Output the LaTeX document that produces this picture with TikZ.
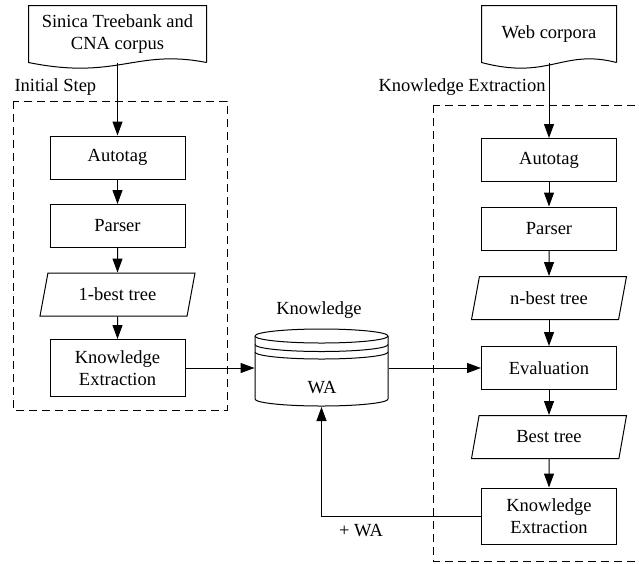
\documentclass[tikz,border=0pt]{standalone}
\usepackage{fontspec}
\setmainfont{Liberation Serif}
\usetikzlibrary{arrows.meta, shapes.geometric, calc}

\tikzset{
  flow/.style={-{Triangle[length=14pt,width=10pt]}},
  procbox/.style={draw, rectangle, minimum width=135pt, minimum height=43pt,
      inner sep=2pt, align=center},
  treebox/.style={draw, trapezium, trapezium left angle=65,
      trapezium right angle=115, trapezium stretches body,
      minimum width=155pt, minimum height=43pt, inner sep=2pt},
  docnode/.style={rectangle, minimum height=56pt, inner sep=2pt, align=center},
  groupframe/.style={dash pattern=on 8pt off 5pt}
}

% outline of a document symbol with a wavy bottom
\newcommand{\docoutline}[1]{%
  \draw (#1.south east) -- (#1.north east) -- (#1.north west) -- (#1.south west)
    .. controls ($(#1.south west)!0.5!(#1.south east)+(0,18)$)
           and ($(#1.south west)!0.6!(#1.south east)+(0,-14)$) .. (#1.south east);}

\begin{document}
\begin{tikzpicture}[x=1pt, y=-1pt, line width=1pt,
      every node/.style={font=\fontsize{18.5}{21.5}\selectfont}]
    \useasboundingbox (0,0) rectangle (639,563);

    % initial step
    \node[docnode, minimum width=177pt] (ldoc) at (117.5,34) {Sinica Treebank and\\CNA corpus};
    \docoutline{ldoc}
    \draw[groupframe] (13,101) rectangle (227,410);
    \node[anchor=west, inner sep=0pt] (linit) at (14,87) {Initial Step};
    \node[procbox] (lauto) at (117.5,157.5) {Autotag};
    \node[procbox] (lpar) at (117.5,226) {Parser};
    \node[treebox] (lbest) at (117.5,294.5) {1-best tree};
    \node[procbox, minimum height=57pt] (lke) at (117.5,368) {Knowledge\\Extraction};

    \draw[flow] (ldoc.south) -- (lauto);
    \draw[flow] (lauto) -- (lpar);
    \draw[flow] (lpar) -- (lbest);
    \draw[flow] (lbest) -- (lke);

    % knowledge base
    \node[minimum width=133pt, minimum height=77pt, inner sep=0pt] (db) at (321.5,368) {};
    \draw (255,336) arc (180:-180:66.5 and 7);
    \draw (255,344.5) arc (180:0:66.5 and 7);
    \draw (255,352) arc (180:0:66.5 and 7);
    \draw (255,336) -- (255,399) arc (180:0:66.5 and 7) -- (388,336);
    \node (kname) at (319,310) {Knowledge};
    \node (kwa) at (322,388) {WA};

    % knowledge extraction
    \node[docnode, minimum width=134pt] (rdoc) at (549,34) {Web corpora};
    \docoutline{rdoc}
    \draw[groupframe] (433,105) rectangle (650,561);
    \node[anchor=east, inner sep=0pt] (rinit) at (546,87) {Knowledge Extraction};
    \node[procbox] (rauto) at (549,160) {Autotag};
    \node[procbox] (rpar) at (549,228.5) {Parser};
    \node[treebox] (rnbest) at (549,298) {n-best tree};
    \node[procbox] (reval) at (549,368) {Evaluation};
    \node[treebox] (rbest) at (549,437) {Best tree};
    \node[procbox, minimum height=56pt] (rke) at (549,516) {Knowledge\\Extraction};

    \draw[flow] (rdoc.south) -- (rauto);
    \draw[flow] (rauto) -- (rpar);
    \draw[flow] (rpar) -- (rnbest);
    \draw[flow] (rnbest) -- (reval);
    \draw[flow] (reval) -- (rbest);
    \draw[flow] (rbest) -- (rke);

    \draw[flow] (lke) -- (db);
    \draw[flow] (db) -- (reval);
    \draw[flow] (rke.west) -| (db.south);
    \node (plus) at (361,531) {+ WA};
  \end{tikzpicture}
\end{document}
